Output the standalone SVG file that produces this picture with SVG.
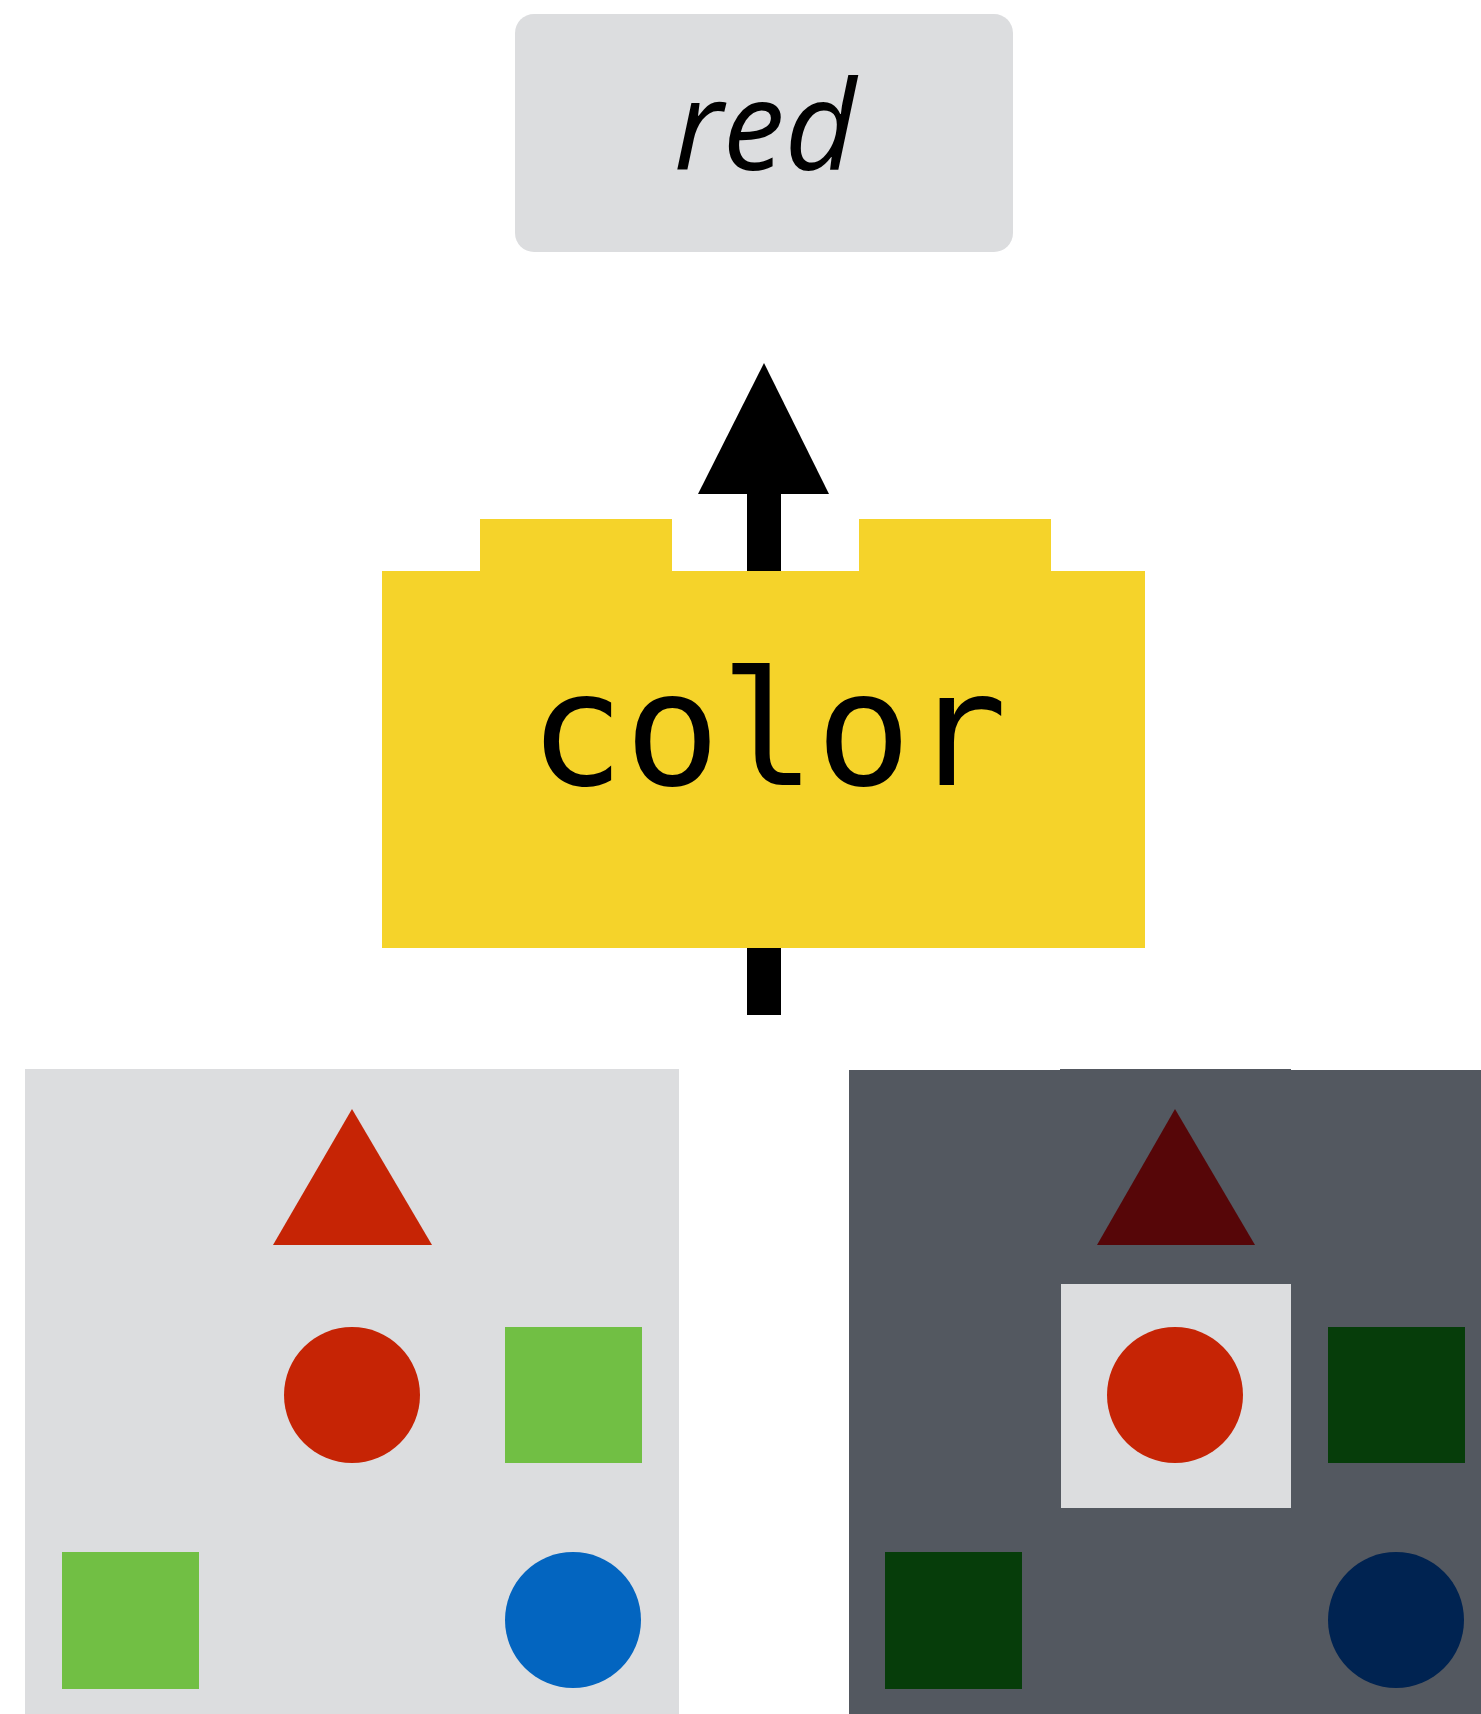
<svg xmlns="http://www.w3.org/2000/svg" width="1481" height="1714" viewBox="0 0 1481 1714">
<style>
.lbl{font-family:"Open Sans","Noto Sans",sans-serif;font-style:italic;font-size:124px;fill:#000}
.mono{font-family:"DejaVu Sans Mono","Liberation Mono",monospace;font-size:159px;fill:#000}
.yellow{fill:#F5D32A}
.light{fill:#DCDDDF}
.dark{fill:#535860}
</style>
<rect width="1481" height="1714" fill="#FFFFFF"/>
<g id="connectors">
<rect x="747" y="490" width="34" height="90" fill="#000"/>
<polygon points="764,363 829,494 698,494" fill="#000"/>
<rect x="747" y="940" width="34" height="75" fill="#000"/>
</g>
<g id="output-red">
<rect x="515" y="14" width="498" height="238" rx="19" class="light"/>
<text x="765" y="170" text-anchor="middle" class="lbl">red</text>
</g>
<g id="color-block">
<path class="yellow" d="M382,571 H480 V519 H672 V571 H859 V519 H1051 V571 H1145 V948 H382 Z"/>
<text x="768" y="785" text-anchor="middle" class="mono">color</text>
</g>
<g id="input-panel">
<rect x="25" y="1069" width="654" height="645" class="light"/>
<polygon points="352,1109 432,1245 273,1245" fill="#C62405"/>
<circle cx="352" cy="1395" r="68" fill="#C62405"/>
<rect x="505" y="1327" width="137" height="136" fill="#71BF44"/>
<rect x="62" y="1552" width="137" height="137" fill="#71BF44"/>
<circle cx="573" cy="1620" r="68" fill="#0365C0"/>
</g>
<g id="output-panel">
<rect x="849" y="1070" width="632" height="644" class="dark"/>
<rect x="1060" y="1069" width="231" height="2" class="dark"/>
<polygon points="1175,1109 1255,1245 1097,1245" fill="#560608"/>
<rect x="1061" y="1284" width="230" height="224" class="light"/>
<circle cx="1175" cy="1395" r="68" fill="#C62405"/>
<rect x="1328" y="1327" width="137" height="136" fill="#063D0A"/>
<rect x="885" y="1552" width="137" height="137" fill="#063D0A"/>
<circle cx="1396" cy="1620" r="68" fill="#002351"/>
</g>
</svg>
